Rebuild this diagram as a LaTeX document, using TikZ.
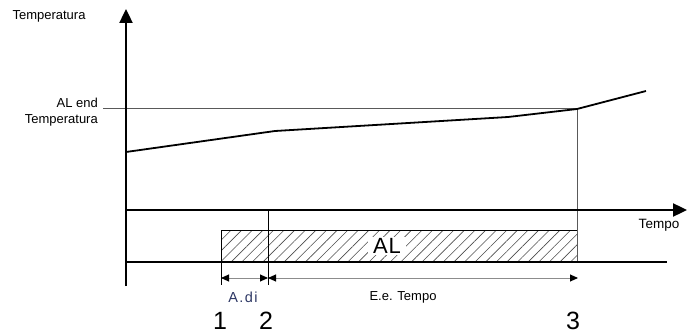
\documentclass[tikz,border=0pt]{standalone}
\usepackage{fontspec}
\setmainfont{Liberation Sans}
\usetikzlibrary{arrows.meta,patterns.meta}
\definecolor{adicol}{RGB}{45,55,100}
\tikzset{
  axis/.style={line width=2.4pt,-{Triangle[length=14pt,width=13pt]}},
  thickline/.style={line width=2.4pt},
  curve/.style={line width=1.8pt,line join=round},
  guide/.style={line width=1pt,draw=black!65},
  dim/.style={line width=0.9pt,draw=black!45,{Triangle[length=8pt,width=7pt,color=black]}-{Triangle[length=8pt,width=7pt,color=black]}},
  lbl/.style={font=\fontsize{13}{15}\selectfont,inner sep=0pt},
  num/.style={font=\fontsize{25}{28}\selectfont,inner sep=0pt}
}
\begin{document}
\begin{tikzpicture}[x=1pt,y=-1pt]
\useasboundingbox (0,0) rectangle (694,334);
% coordinates
\coordinate (yb) at (126,286);
\coordinate (yt) at (126,9);
\coordinate (xl) at (126,210);
\coordinate (xr) at (687,210);
\coordinate (ll) at (126,262);
\coordinate (lr) at (667,262);
\coordinate (c0) at (126,152);
\coordinate (c1) at (275,131);
\coordinate (c2) at (508,117);
\coordinate (c3) at (577,109);
\coordinate (c4) at (646,91);
\coordinate (h0) at (103,109);
\coordinate (v3b) at (577,262);
\coordinate (v2t) at (268,210);
\coordinate (v2b) at (268,285);
\coordinate (v1t) at (221,262);
\coordinate (v1b) at (221,285);
\coordinate (d1) at (221,278);
\coordinate (d2) at (268,278);
\coordinate (d3) at (578,278);
% hatched AL band
\node[draw=black,line width=1.5pt,inner sep=0pt,minimum width=356pt,minimum height=32pt,
  pattern={Lines[angle=45,distance=7.5pt,line width=0.6pt]},pattern color=black!70,anchor=north west]
  (band) at (221,230) {};
\node[font=\fontsize{22}{24}\selectfont\addfontfeature{LetterSpace=4},inner xsep=5pt,inner ysep=1pt,fill=white] (al) at (387,246) {AL};
% guides
\draw[guide] (h0) -- (c3) -- (v3b);
\draw[line width=1pt] (v2t) -- (v2b);
\draw[line width=1pt] (v1t) -- (v1b);
% axes
\draw[axis] (yb) -- (yt);
\draw[axis] (xl) -- (xr);
\draw[thickline] (ll) -- (lr);
% curve
\draw[curve] (c0) -- (c1) -- (c2) -- (c3) -- (c4);
% dimensions
\draw[dim] (d1) -- (d2);
\draw[dim] (d2) -- (d3);
% labels
\node[lbl] (tlab) at (49,16) {Temperatura};
\node[lbl,anchor=east] (alend) at (98,103) {AL end};
\node[lbl,anchor=east] (alend2) at (98,120) {Temperatura};
\node[lbl,font=\fontsize{13.5}{15}\selectfont] (tempo) at (659,225) {Tempo};
\node[lbl,font=\fontsize{14.5}{16}\selectfont\addfontfeature{LetterSpace=10},text=adicol] (adi) at (243,297) {A.di};
\node[lbl] (eet) at (403,297) {E.e. Tempo};
\node[num] (n1) at (220,321) {1};
\node[num] (n2) at (266,321) {2};
\node[num] (n3) at (573,321) {3};
\end{tikzpicture}
\end{document}
